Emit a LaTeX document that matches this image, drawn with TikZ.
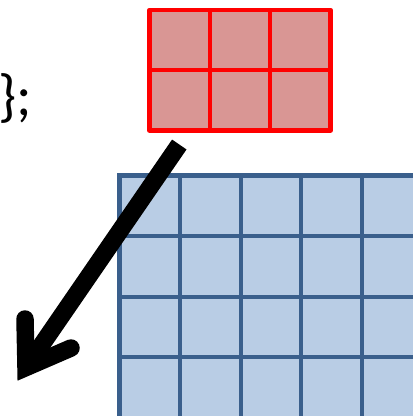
\documentclass[tikz,border=0pt]{standalone}
\usepackage{fontspec}
\newfontfamily\codefont{Carlito}
\definecolor{redfill}{HTML}{D99694}
\definecolor{redline}{HTML}{FF0000}
\definecolor{bluefill}{HTML}{B9CDE5}
\definecolor{blueline}{HTML}{3A5F8C}
\tikzset{
  redgrid/.style={draw=redline, fill=redfill, line width=4.5pt, line join=round},
  bluegrid/.style={draw=blueline, fill=bluefill, line width=4.2pt},
  bigarrow/.style={line width=17.5pt, draw=black},
  codetext/.style={font=\codefont\fontsize{58}{66}\selectfont, inner sep=0pt, anchor=base west}
}
\begin{document}
\begin{tikzpicture}[x=1pt, y=-1pt]
\useasboundingbox (0,0) rectangle (413,416);
\clip (0,0) rectangle (413,416);
% blue grid
\foreach \i in {0,...,4} {
  \foreach \j in {0,...,3} {
    \path[bluegrid] ({119.5+60.6*\i},{175.5+60.6*\j}) rectangle ++(60.6,60.6);
  }
}
% red grid
\foreach \i in {0,1,2} {
  \foreach \j in {0,1} {
    \path[redgrid] ({149.6+60.3*\i},{9.8+60.3*\j}) rectangle ++(60.3,60.3);
  }
}
% text
\node[codetext] (code) at (-1.5,115) {\};};
% arrow
\coordinate (s) at (179.3,144.5);
\coordinate (t) at (26,367.5);
\coordinate (b1) at (25,319);
\coordinate (b2) at (71,348);
\draw[bigarrow, line cap=butt] (s) -- (t);
\draw[bigarrow, line cap=round, line join=miter] (b1) -- (t) -- (b2);
\end{tikzpicture}
\end{document}
